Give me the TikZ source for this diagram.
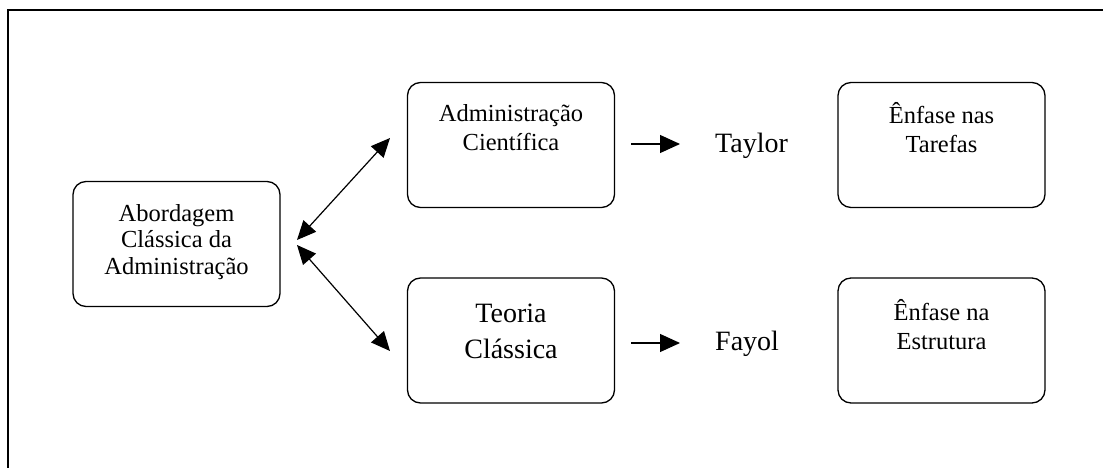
\documentclass[tikz,border=0pt]{standalone}
\usepackage{fontspec}
\setmainfont{Liberation Serif}
\usetikzlibrary{arrows.meta,calc}
\tikzset{
  box/.style={draw, line width=1.3pt, rounded corners=13pt, minimum width=207pt, minimum height=125pt, inner sep=0pt},
  smalltxt/.style={align=center, inner sep=0pt, font=\fontsize{24}{29}\selectfont},
  bigtxt/.style={align=center, inner sep=0pt, font=\fontsize{28}{36}\selectfont},
  conn/.style={line width=1.2pt, -{Triangle[length=20pt,width=18pt]}},
  dconn/.style={line width=1.2pt, {Triangle[length=19pt,width=17pt]}-{Triangle[length=19pt,width=17pt]}},
}
\begin{document}
\begin{tikzpicture}[x=1pt,y=-1pt]
\useasboundingbox (0,0) rectangle (1103,468);
\draw[line width=2pt] (8,468) -- (8,10.5) -- (1103,10.5);
% boxes
\node[box] (abord) at (176.5,244) {};
\node[box] (adm) at (511,145) {};
\node[box] (teo) at (511,340.5) {};
\node[box] (taref) at (941.5,145) {};
\node[box] (estr) at (941.5,340.5) {};
% texts
\node[smalltxt, font=\fontsize{24.5}{26.5}\selectfont] (abordt) at (176.5,242) {Abordagem\\Clássica da\\Administração};
\node[smalltxt, font=\fontsize{24.5}{29}\selectfont] (admt) at (511,128) {Administração\\Científica};
\node[bigtxt] (teot) at (511,331) {Teoria\\Clássica};
\node[smalltxt, font=\fontsize{24.5}{29}\selectfont] (tareft) at (941.5,128) {Ênfase nas\\Tarefas};
\node[smalltxt, font=\fontsize{24.5}{29}\selectfont] (estrt) at (941.5,325) {Ênfase na\\Estrutura};
\node[bigtxt, anchor=west] (taylor) at (715,146) {Taylor};
\node[bigtxt, anchor=west] (fayol) at (715,344) {Fayol};
% connector end points
\coordinate (a1) at (297,240);
\coordinate (a2) at (297,245);
\coordinate (b1) at (390,138);
\coordinate (b2) at (390,351);
\coordinate (h1s) at (631,144);
\coordinate (h1e) at (680,144);
\coordinate (h2s) at (631,343);
\coordinate (h2e) at (680,343);
\draw[dconn] (a1) -- (b1);
\draw[dconn] (a2) -- (b2);
\draw[conn] (h1s) -- (h1e);
\draw[conn] (h2s) -- (h2e);
\end{tikzpicture}
\end{document}
